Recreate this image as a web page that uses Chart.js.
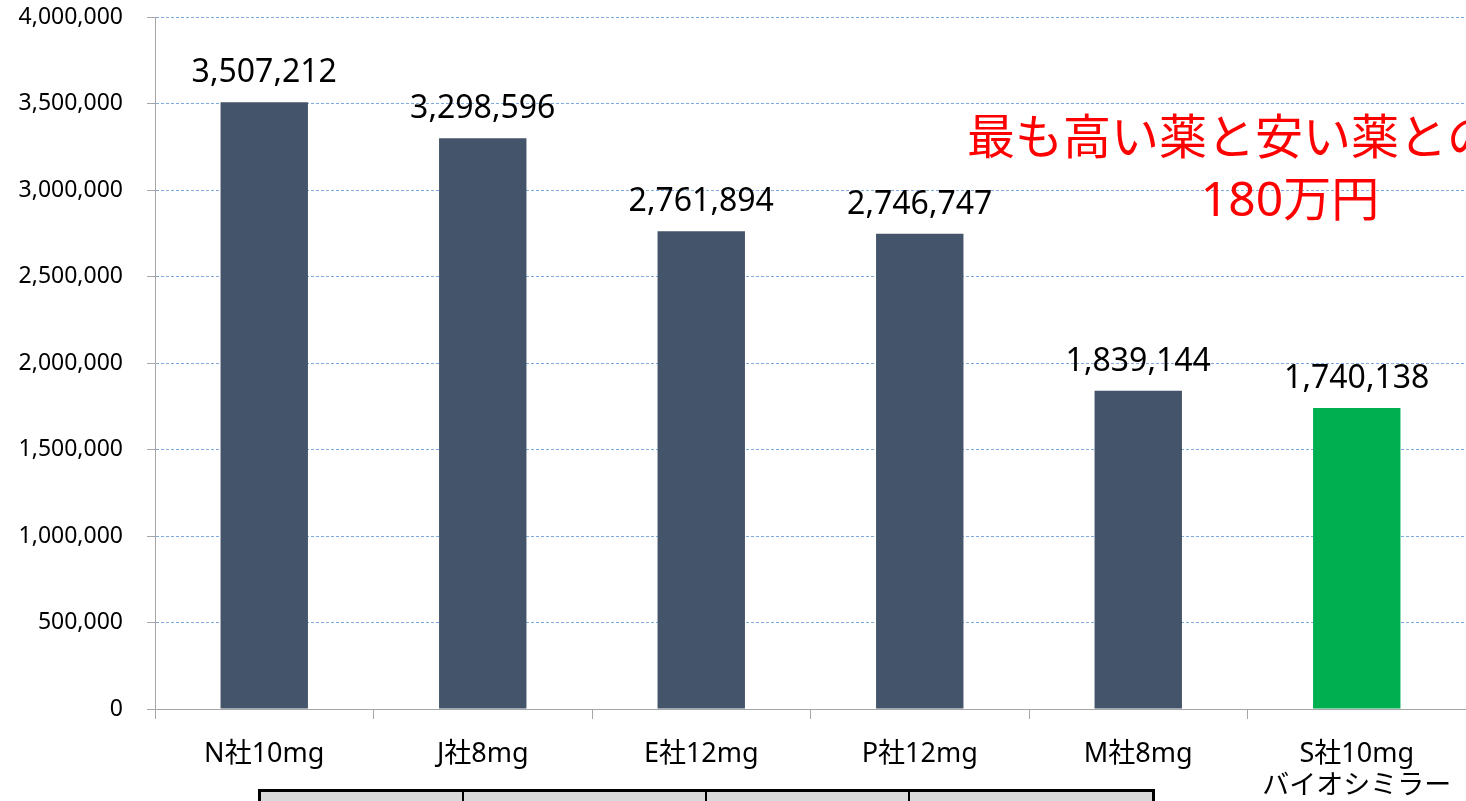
<!DOCTYPE html>
<html lang="ja">
<head>
<meta charset="utf-8">
<title>薬剤費の比較</title>
<script src="https://cdn.jsdelivr.net/npm/chart.js@4"></script>
<style>
  html, body { margin: 0; padding: 0; background: #fff; overflow: hidden; }
  #wrap { position: relative; width: 1466px; height: 801px; }
  #chart { position: absolute; left: 0; top: 0; }
  /* table header strip peeking in under the chart */
  .table-strip {
    position: absolute; left: 258px; top: 789px; width: 891px; height: 30px;
    background: #d9d9d9; border: 3px solid #000; display: flex;
  }
  .table-strip div { border-right: 2px solid #000; height: 100%; }
  .table-strip div:last-child { border-right: none; }
</style>
</head>
<body>
<div id="wrap">
  <canvas id="chart" width="1466" height="801"></canvas>
  <div class="table-strip">
    <div style="width:201px"></div>
    <div style="width:241px"></div>
    <div style="width:201px"></div>
    <div style="flex:1"></div>
  </div>
</div>

<script>
// ---- data ----
const products = [['N社10mg'], ['J社8mg'], ['E社12mg'], ['P社12mg'], ['M社8mg'], ['S社10mg', 'バイオシミラー']];
const costs = [3507212, 3298596, 2761894, 2746747, 1839144, 1740138];
const barColors = ['#44546a', '#44546a', '#44546a', '#44546a', '#44546a', '#00b050'];
const yTicks = [0, 500000, 1000000, 1500000, 2000000, 2500000, 3000000, 3500000, 4000000];
const noteLines = ['最も高い薬と安い薬との差', '180万円'];

const FONT = "'Noto Sans', 'Noto Sans CJK JP', sans-serif";
Chart.defaults.font.family = FONT;
Chart.defaults.color = '#000';

const fmt = v => v.toLocaleString('en-US');

// value above each bar
const valueLabels = {
  id: 'valueLabels',
  afterDatasetsDraw(chart) {
    const { ctx } = chart;
    const meta = chart.getDatasetMeta(0);
    ctx.save();
    ctx.font = '32px ' + FONT;
    ctx.fillStyle = '#000';
    ctx.textAlign = 'center';
    ctx.textBaseline = 'alphabetic';
    meta.data.forEach((bar, i) => {
      ctx.fillText(fmt(costs[i]), bar.x, bar.y - 20);
    });
    ctx.restore();
  }
};

// red callout in the upper right
const callout = {
  id: 'callout',
  afterDraw(chart) {
    const { ctx } = chart;
    ctx.save();
    ctx.font = '48px ' + FONT;
    ctx.fillStyle = '#ff0000';
    ctx.textBaseline = 'middle';
    ctx.textAlign = 'left';
    ctx.fillText(noteLines[0], 967, 140);
    ctx.textAlign = 'center';
    ctx.fillText(noteLines[1], 1290, 202);
    ctx.restore();
  }
};

new Chart(document.getElementById('chart'), {
  type: 'bar',
  data: {
    labels: products,
    datasets: [{
      data: costs,
      backgroundColor: barColors,
      borderWidth: 0,
      barPercentage: 0.4,
      categoryPercentage: 1.0
    }]
  },
  options: {
    responsive: false,
    animation: false,
    layout: { padding: { top: 17, left: 0, right: 0, bottom: 0 } },
    plugins: {
      legend: { display: false },
      tooltip: { enabled: false }
    },
    scales: {
      x: {
        offset: true,
        grid: {
          offset: true,
          drawOnChartArea: false,
          tickLength: 10,
          tickColor: '#a6a6a6',
          color: '#a6a6a6'
        },
        border: { color: '#a6a6a6', width: 1 },
        ticks: {
          font: { size: 27, lineHeight: 1.2 },
          color: '#000',
          padding: 19,
          maxRotation: 0,
          autoSkip: false
        },
        afterFit(scale) {
          scale.height = 92;
          scale.paddingLeft = 0;
          scale.paddingRight = 0;
        }
      },
      y: {
        min: 0,
        max: 4000000,
        afterBuildTicks(scale) { scale.ticks = yTicks.map(v => ({ value: v })); },
        grid: {
          color: ctx => ctx.tick && ctx.tick.value === 0 ? 'rgba(0,0,0,0)' : '#7fabdf',
          tickColor: '#a6a6a6',
          tickLength: 8,
          lineWidth: 1
        },
        border: { color: '#a6a6a6', width: 1, dash: [3, 2] },
        ticks: {
          font: { size: 23 },
          color: '#000',
          padding: 24,
          callback: v => fmt(v)
        },
        afterFit(scale) {
          scale.width = 155;
          scale.paddingTop = 0;
          scale.paddingBottom = 0;
        }
      }
    }
  },
  plugins: [valueLabels, callout]
});
</script>
</body>
</html>
